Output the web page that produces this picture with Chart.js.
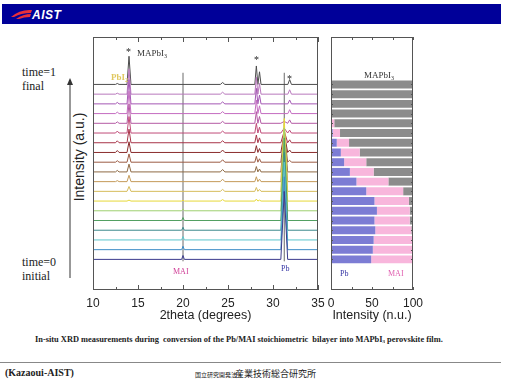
<!DOCTYPE html>
<html>
<head>
<meta charset="utf-8">
<script src="https://cdn.jsdelivr.net/npm/chart.js@4.4.0/dist/chart.umd.min.js"></script>
<style>
  body { margin: 0; background: #fff; }
  #slide { position: relative; width: 509px; height: 383px; overflow: hidden; font-family: "Liberation Serif", "DejaVu Serif", serif; color: #222; }
  .abs { position: absolute; white-space: nowrap; line-height: 1; }
  canvas { position: absolute; }
  #header { position: absolute; left: 2px; top: 4px; width: 499px; height: 20px; background: #000099; }
  #logo { position: absolute; left: 30px; top: 4px; color: #fff; font: italic bold 12px "Liberation Sans", Arial, sans-serif; letter-spacing: 0.5px; }
</style>
</head>
<body>
<div id="slide">
  <div id="header">
    <svg width="30" height="20" style="position:absolute;left:6px;top:0">
      <path d="M3 13 Q12 5 24 6 L23 9 Q13 9 6 13 Z" fill="#e8303a"/>
      <path d="M8 15 Q15 10 23 10 L22 13 Q16 13 11 15 Z" fill="#e8303a"/>
    </svg>
    <div id="logo">AIST</div>
  </div>

  <div class="abs" style="left:22px;top:66px;font-size:12px;">time=1</div>
  <div class="abs" style="left:22px;top:80px;font-size:12px;">final</div>
  <div class="abs" style="left:22px;top:256px;font-size:12px;">time=0</div>
  <div class="abs" style="left:22px;top:270px;font-size:12px;">initial</div>

  <svg width="12" height="210" style="position:absolute;left:64px;top:76px">
    <line x1="6" y1="4" x2="6" y2="202" stroke="#333" stroke-width="1"/>
    <path d="M3 9 L6 2 L9 9 Z" fill="#333"/>
  </svg>
  <div class="abs" style="left:79px;top:157px;font:14px 'Liberation Sans', Arial, sans-serif;transform:translate(-50%,-50%) rotate(-90deg);">Intensity (a.u.)</div>

  <canvas id="xrd" width="253" height="294" style="left:79px;top:33px"></canvas>
  <canvas id="frac" width="106" height="294" style="left:319px;top:33px"></canvas>

  <div class="abs" style="left:126px;top:47px;font-size:10px;">*</div>
  <div class="abs" style="left:254px;top:55px;font-size:10px;">*</div>
  <div class="abs" style="left:287px;top:74px;font-size:10px;">*</div>
  <div class="abs" style="left:137px;top:49px;font-size:9px;color:#333;">MAPbI<span style="font-size:6px;position:relative;top:2px">3</span></div>
  <div class="abs" style="left:111px;top:73px;font-size:9px;color:#e0c860;font-weight:bold;">PbI<span style="font-size:6px;position:relative;top:2px">2</span></div>
  <div class="abs" style="left:173px;top:268px;font-size:8px;color:#d04098;">MAI</div>
  <div class="abs" style="left:281px;top:265px;font-size:8px;color:#3434a4;">Pb</div>
  <div class="abs" style="left:364px;top:71px;font-size:9px;color:#333;">MAPbI<span style="font-size:6px;position:relative;top:2px">3</span></div>
  <div class="abs" style="left:340px;top:270px;font-size:8px;color:#3434a4;">Pb</div>
  <div class="abs" style="left:388px;top:270px;font-size:8px;color:#e060b0;">MAI</div>

  <div class="abs" style="left:35px;top:336px;font-size:8.4px;font-weight:bold;">In-situ XRD measurements during&nbsp; conversion of the Pb/MAI stoichiometric&nbsp; bilayer into MAPbI<span style="font-size:5px;position:relative;top:1px">3</span> perovskite film.</div>

  <div style="position:absolute;left:0;top:362px;width:501px;height:1px;background:#888"></div>
  <div class="abs" style="left:5px;top:368px;font-size:10px;font-weight:bold;">(Kazaoui-AIST)</div>
  <div class="abs" style="left:195px;top:370px;font:6px 'Noto Sans CJK JP', sans-serif;">国立研究開発法人</div>
  <div class="abs" style="left:235px;top:367px;font:9px 'Noto Sans CJK JP', sans-serif;">産業技術総合研究所</div>
</div>

<script>
// scans from bottom (time=0, initial) to top (time=1, final)
var scanColors = ['#3a3a8c', '#3d8cc6', '#5cc6cc', '#3c8a8c', '#52a062', '#9ed070', '#e6d838',
  '#d6bc5c', '#c49a58', '#8e6a44', '#9c5c44', '#8a2c2c', '#a83448', '#c04c78', '#b45aa4',
  '#c46cc0', '#a458b4', '#b878bc', '#4c4c4c'];

// peak positions (2theta) and half widths at the base
var peakAngles = [12.7, 14.0, 20.0, 24.4, 28.15, 28.5, 31.25, 31.85];
var peakHalfWidths = [0.2, 0.22, 0.15, 0.25, 0.17, 0.17, 0.38, 0.2];

// peak heights per scan, in units of the scan offset
var pbi2_127  = [0, 0, 0, 0, 0, 0, 0, 0, 0.1, 0.15, 0.15, 0.2, 0.2, 0.2, 0.15, 0.15, 0.15, 0.1, 0.1];
var mapi_140  = [0, 0, 0, 0, 0, 0, 0.1, 0.5, 0.65, 0.8, 0.85, 1.1, 1.4, 1.7, 2.0, 2.3, 2.5, 2.6, 2.9];
var mai_200   = [0.4, 0.35, 0.35, 0.3, 0.3, 0.2, 0.1, 0, 0, 0, 0, 0, 0, 0, 0, 0, 0, 0, 0];
var mapi_244  = [0, 0, 0, 0, 0, 0, 0.15, 0.2, 0.25, 0.25, 0.25, 0.25, 0.2, 0.2, 0.2, 0.2, 0.2, 0.2, 0.2];
var mapi_2815 = [0, 0, 0, 0, 0, 0, 0.2, 0.4, 0.5, 0.55, 0.6, 0.7, 0.8, 1.0, 1.2, 1.4, 1.6, 1.75, 1.9];
var mapi_285  = [0, 0, 0, 0, 0, 0, 0.1, 0.2, 0.25, 0.3, 0.35, 0.4, 0.5, 0.6, 0.7, 0.8, 0.9, 1.1, 1.3];
var pb_3125   = [7, 7.5, 8, 8, 8.5, 8.5, 8.5, 7, 5.5, 4, 3, 2, 1.2, 0.5, 0.2, 0, 0, 0, 0];
var mapi_3185 = [0, 0, 0, 0, 0, 0, 0, 0, 0, 0, 0.2, 0.25, 0.3, 0.3, 0.35, 0.4, 0.4, 0.45, 0.5];
var peakHeights = [pbi2_127, mapi_140, mai_200, mapi_244, mapi_2815, mapi_285, pb_3125, mapi_3185];

// reference lines for MAI and Pb
var refLines = [20.0, 31.25];
var refLineTop = 19.2;

// phase fractions (%) per scan, bottom to top
var fracPb    = [49, 51, 52, 54, 53, 56, 53, 43, 31, 23, 16, 12, 7, 2, 0, 0, 0, 0, 0];
var fracMAI   = [51, 49, 47, 44, 43, 40, 42, 45, 39, 29, 27, 23, 15, 9, 4, 1, 0, 0, 0];
var fracMAPbI = [0, 0, 1, 2, 4, 4, 5, 12, 30, 48, 57, 65, 78, 89, 96, 99, 100, 100, 100];

var yMin = -3.15, yMax = 22.88;
var axisFont = { family: "'Liberation Sans', Arial, sans-serif", size: 12, lineHeight: 1 };
var titleFont = { family: "'Liberation Sans', Arial, sans-serif", size: 12.5 };

// box and inward tick marks
var frameTicks = {
  id: 'frameTicks',
  afterDraw: function (chart, args, opts) {
    var ctx = chart.ctx, a = chart.chartArea, xs = chart.scales.x, ys = chart.scales.y;
    ctx.save();
    ctx.strokeStyle = '#555';
    ctx.lineWidth = 1;
    ctx.strokeRect(Math.round(a.left) + 0.5, Math.round(a.top) + 0.5,
      Math.round(a.right - a.left) - 1, Math.round(a.bottom - a.top) - 1);
    ctx.beginPath();
    xs.ticks.forEach(function (t) {
      var px = Math.round(xs.getPixelForValue(t.value)) + 0.5;
      var len = (t.value % opts.majorStep === 0) ? opts.major : opts.minor;
      ctx.moveTo(px, a.bottom); ctx.lineTo(px, a.bottom - len);
      ctx.moveTo(px, a.top); ctx.lineTo(px, a.top + len);
    });
    if (opts.sideTicks) {
      scanColors.forEach(function (c, i) {
        var py = Math.round(ys.getPixelForValue(i)) + 0.5;
        ctx.moveTo(a.left, py); ctx.lineTo(a.left + 2, py);
        ctx.moveTo(a.right, py); ctx.lineTo(a.right - 2, py);
      });
    }
    ctx.stroke();
    ctx.restore();
  }
};

// XRD scans
var datasets = [];
scanColors.forEach(function (color, i) {
  var pts = [{ x: 10, y: i }];
  peakAngles.forEach(function (ang, k) {
    var h = peakHeights[k][i];
    if (!h) return;
    var w = peakHalfWidths[k];
    pts.push({ x: ang - w, y: i }, { x: ang, y: i + h }, { x: ang + w, y: i });
  });
  pts.push({ x: 35, y: i });
  datasets.push({ data: pts, borderColor: color, borderWidth: 1, pointRadius: 0, tension: 0, fill: false });
});
refLines.forEach(function (ang) {
  datasets.push({ data: [{ x: ang, y: -0.2 }, { x: ang, y: refLineTop }], borderColor: '#6a6a6a',
    borderWidth: 1, pointRadius: 0, fill: false });
});

new Chart(document.getElementById('xrd'), {
  type: 'line',
  data: { datasets: datasets },
  options: {
    responsive: false,
    animation: false,
    layout: { padding: { left: 14, right: 14, top: 4, bottom: 4 } },
    plugins: { legend: { display: false }, tooltip: { enabled: false },
      frameTicks: { majorStep: 5, major: 5, minor: 3 } },
    scales: {
      x: {
        type: 'linear', min: 10, max: 35,
        grid: { display: false }, border: { display: false },
        ticks: { stepSize: 2.5, padding: 0, color: '#222', font: axisFont, maxRotation: 0, autoSkip: false,
          callback: function (v) { return v % 5 === 0 ? v : ''; } },
        title: { display: true, text: '2theta (degrees)', color: '#222', font: titleFont, padding: { top: -2, bottom: 0 } }
      },
      y: { type: 'linear', min: yMin, max: yMax, display: false }
    }
  },
  plugins: [frameTicks]
});

// phase fractions
function barSet(label, vals, color) {
  return {
    label: label,
    data: vals.map(function (v, i) { return { x: v, y: i }; }),
    backgroundColor: color,
    borderWidth: 0,
    barPercentage: 0.82,
    categoryPercentage: 1
  };
}

new Chart(document.getElementById('frac'), {
  type: 'bar',
  data: {
    datasets: [
      barSet('Pb', fracPb, '#7c7cd4'),
      barSet('MAI', fracMAI, '#f8b6dc'),
      barSet('MAPbI3', fracMAPbI, '#8c8c8c')
    ]
  },
  options: {
    indexAxis: 'y',
    responsive: false,
    animation: false,
    layout: { padding: { left: 12, right: 12, top: 4, bottom: 4 } },
    plugins: { legend: { display: false }, tooltip: { enabled: false },
      frameTicks: { majorStep: 25, major: 3, minor: 3, sideTicks: true } },
    scales: {
      x: {
        type: 'linear', min: 0, max: 100, stacked: true,
        grid: { display: false }, border: { display: false },
        ticks: { stepSize: 25, padding: 0, color: '#222', font: axisFont, maxRotation: 0, autoSkip: false,
          callback: function (v) { return v % 50 === 0 ? v : ''; } },
        title: { display: true, text: 'Intensity (n.u.)', color: '#222', font: titleFont, padding: { top: -2, bottom: 0 } }
      },
      y: { type: 'linear', min: yMin, max: yMax, stacked: true, offset: false, display: false }
    }
  },
  plugins: [frameTicks]
});
</script>
</body>
</html>
